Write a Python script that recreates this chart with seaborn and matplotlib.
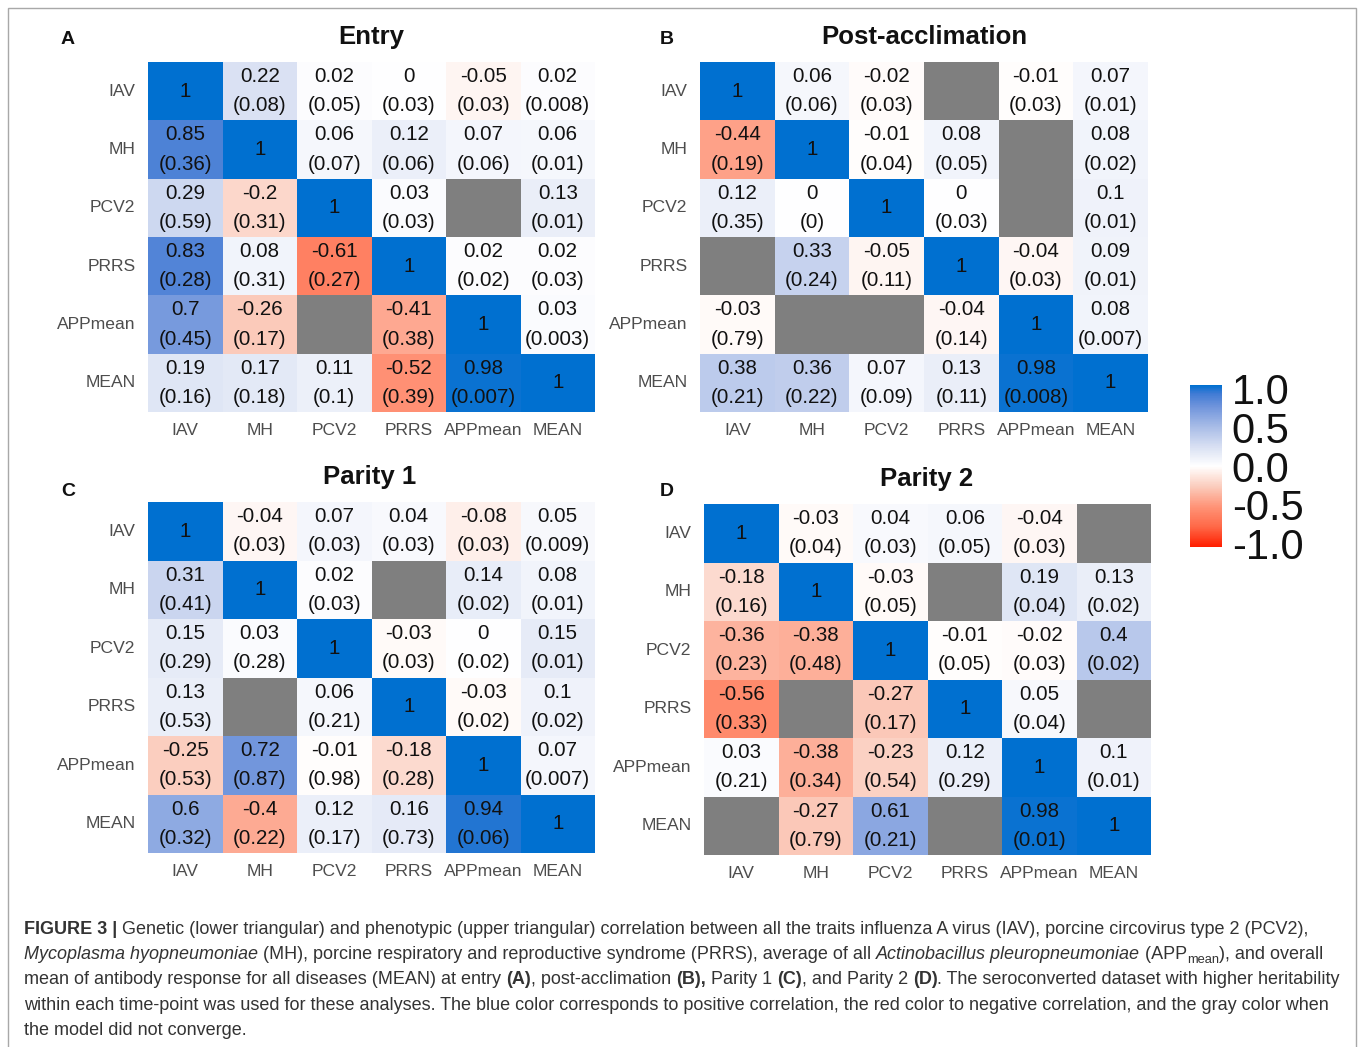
import numpy as np
import pandas as pd
import matplotlib
matplotlib.use("Agg")
import matplotlib.pyplot as plt
import seaborn as sns
from matplotlib.colors import LinearSegmentedColormap
from matplotlib.patches import Rectangle
from matplotlib.cm import ScalarMappable
from matplotlib.colors import Normalize

traits = ["IAV", "MH", "PCV2", "PRRS", "APPmean", "MEAN"]
N = None

# Panel A: Entry (values / standard errors; None = model did not converge)
entry_r = [
    [1, 0.22, 0.02, 0, -0.05, 0.02],
    [0.85, 1, 0.06, 0.12, 0.07, 0.06],
    [0.29, -0.2, 1, 0.03, N, 0.13],
    [0.83, 0.08, -0.61, 1, 0.02, 0.02],
    [0.7, -0.26, N, -0.41, 1, 0.03],
    [0.19, 0.17, 0.11, -0.52, 0.98, 1],
]
entry_se = [
    [N, 0.08, 0.05, 0.03, 0.03, 0.008],
    [0.36, N, 0.07, 0.06, 0.06, 0.01],
    [0.59, 0.31, N, 0.03, N, 0.01],
    [0.28, 0.31, 0.27, N, 0.02, 0.03],
    [0.45, 0.17, N, 0.38, N, 0.003],
    [0.16, 0.18, 0.1, 0.39, 0.007, N],
]

# Panel B: Post-acclimation
post_r = [
    [1, 0.06, -0.02, N, -0.01, 0.07],
    [-0.44, 1, -0.01, 0.08, N, 0.08],
    [0.12, 0, 1, 0, N, 0.1],
    [N, 0.33, -0.05, 1, -0.04, 0.09],
    [-0.03, N, N, -0.04, 1, 0.08],
    [0.38, 0.36, 0.07, 0.13, 0.98, 1],
]
post_se = [
    [N, 0.06, 0.03, N, 0.03, 0.01],
    [0.19, N, 0.04, 0.05, N, 0.02],
    [0.35, 0, N, 0.03, N, 0.01],
    [N, 0.24, 0.11, N, 0.03, 0.01],
    [0.79, N, N, 0.14, N, 0.007],
    [0.21, 0.22, 0.09, 0.11, 0.008, N],
]

# Panel C: Parity 1
p1_r = [
    [1, -0.04, 0.07, 0.04, -0.08, 0.05],
    [0.31, 1, 0.02, N, 0.14, 0.08],
    [0.15, 0.03, 1, -0.03, 0, 0.15],
    [0.13, N, 0.06, 1, -0.03, 0.1],
    [-0.25, 0.72, -0.01, -0.18, 1, 0.07],
    [0.6, -0.4, 0.12, 0.16, 0.94, 1],
]
p1_se = [
    [N, 0.03, 0.03, 0.03, 0.03, 0.009],
    [0.41, N, 0.03, N, 0.02, 0.01],
    [0.29, 0.28, N, 0.03, 0.02, 0.01],
    [0.53, N, 0.21, N, 0.02, 0.02],
    [0.53, 0.87, 0.98, 0.28, N, 0.007],
    [0.32, 0.22, 0.17, 0.73, 0.06, N],
]

# Panel D: Parity 2
p2_r = [
    [1, -0.03, 0.04, 0.06, -0.04, N],
    [-0.18, 1, -0.03, N, 0.19, 0.13],
    [-0.36, -0.38, 1, -0.01, -0.02, 0.4],
    [-0.56, N, -0.27, 1, 0.05, N],
    [0.03, -0.38, -0.23, 0.12, 1, 0.1],
    [N, -0.27, 0.61, N, 0.98, 1],
]
p2_se = [
    [N, 0.04, 0.03, 0.05, 0.03, N],
    [0.16, N, 0.05, N, 0.04, 0.02],
    [0.23, 0.48, N, 0.05, 0.03, 0.02],
    [0.33, N, 0.17, N, 0.04, N],
    [0.21, 0.34, 0.54, 0.29, N, 0.01],
    [N, 0.79, 0.21, N, 0.01, N],
]

titles = ["Entry", "Post-acclimation", "Parity 1", "Parity 2"]
letters = ["A", "B", "C", "D"]
cbar_ticks = [-1.0, -0.5, 0.0, 0.5, 1.0]
cbar_labels = ["-1.0", "-0.5", "0.0", "0.5", "1.0"]

# ---------------------------------------------------------------
W, H = 1358, 1047
sns.set_theme(style="white")
plt.rcParams["font.family"] = ["Liberation Sans", "DejaVu Sans"]

stops = [
    (-1.0, (255, 30, 0)), (-0.75, (255, 105, 72)), (-0.5, (255, 148, 120)),
    (-0.25, (251, 205, 190)), (0.0, (255, 255, 255)), (0.25, (214, 222, 242)),
    (0.5, (165, 186, 230)), (0.75, (108, 146, 219)), (0.9, (62, 122, 212)),
    (1.0, (0, 112, 208)),
]
cmap = LinearSegmentedColormap.from_list(
    "rwb", [((v + 1) / 2, tuple(c / 255 for c in col)) for v, col in stops])


def fmt(v):
    return f"{v:g}"


def fx(px):
    return px / W


def fy(py):
    return 1 - py / H


fig = plt.figure(figsize=(W / 100, H / 100), dpi=100)

# outer frame
fig.add_artist(Rectangle((fx(8), -0.1), fx(1348), fy(8) + 0.1, transform=fig.transFigure,
                         fill=False, edgecolor="#a8a8a8", lw=1.0))

panels = [
    (entry_r, entry_se, (148, 62, 595, 412), (371, 37), (68, 39)),
    (post_r, post_se, (700, 62, 1148, 412), (924, 37), (667, 39)),
    (p1_r, p1_se, (148, 502, 595, 853), (370, 477), (68, 492)),
    (p2_r, p2_se, (704, 504, 1151, 855), (927, 479), (667, 492)),
]

for (r, se, box, tpos, lpos), title, letter in zip(panels, titles, letters):
    x0, y0, x1, y1 = box
    ax = fig.add_axes([fx(x0), fy(y1), fx(x1 - x0), (y1 - y0) / H])
    vals = np.array([[np.nan if v is None else v for v in row] for row in r], dtype=float)
    df = pd.DataFrame(vals, index=traits, columns=traits)
    annot = np.empty(vals.shape, dtype=object)
    for i in range(6):
        for j in range(6):
            if r[i][j] is None:
                annot[i, j] = ""
            elif i == j:
                annot[i, j] = fmt(r[i][j])
            else:
                annot[i, j] = f"{fmt(r[i][j])}\n({fmt(se[i][j])})"
    sns.heatmap(df, mask=np.isnan(vals), cmap=cmap, vmin=-1, vmax=1, annot=annot, fmt="",
                cbar=False, ax=ax, linewidths=0,
                annot_kws=dict(fontsize=14.8, color="#111111", linespacing=1.68))
    ax.set_facecolor("#7f7f7f")
    ax.tick_params(axis="both", length=0, labelsize=12.6, labelcolor="#4d4d4d")
    ax.tick_params(axis="y", pad=9)
    ax.tick_params(axis="x", pad=8)
    ax.set_xticklabels(traits, rotation=0)
    ax.set_yticklabels(traits, rotation=0)
    ax.set_xlabel("")
    ax.set_ylabel("")
    for s in ax.spines.values():
        s.set_visible(False)
    fig.text(fx(tpos[0]), fy(tpos[1]), title, ha="center", va="center",
             fontsize=18.5, fontweight="bold", color="#111111")
    fig.text(fx(lpos[0]), fy(lpos[1]), letter, ha="center", va="center",
             fontsize=14, fontweight="bold", color="#111111")

# colorbar
cax = fig.add_axes([fx(1190), fy(547), fx(32), 162 / H])
sm = ScalarMappable(norm=Normalize(-1.05, 1.05), cmap=cmap)
cb = fig.colorbar(sm, cax=cax, ticks=cbar_ticks)
cb.outline.set_visible(False)
cb.ax.set_yticklabels(cbar_labels)
cb.ax.yaxis.set_ticks_position("both")
cb.ax.tick_params(axis="y", direction="in", color="white", length=5, width=0.8,
                  labelsize=30, labelcolor="#111111", pad=7, labelleft=False, labelright=True)

# caption with mixed styles
renderer = fig.canvas.get_renderer()
cap_fs = 12.95
cap_col = "#333333"


def draw_runs(x_px, y_px, runs):
    x = fx(x_px)
    for text, style in runs:
        kw = dict(fontsize=cap_fs, color=cap_col, va="baseline", ha="left")
        yy = fy(y_px)
        if style == "b":
            kw["fontweight"] = "bold"
        elif style == "i":
            kw["fontstyle"] = "italic"
        elif style == "sub":
            kw["fontsize"] = cap_fs * 0.72
            yy = fy(y_px + 4)
        t = fig.text(x, yy, text, **kw)
        bb = t.get_window_extent(renderer=renderer)
        x += bb.width / W


lines = [
    [("FIGURE 3 |", "b"),
     (" Genetic (lower triangular) and phenotypic (upper triangular) correlation between all the traits influenza A virus (IAV), porcine circovirus type 2 (PCV2),", "n")],
    [("Mycoplasma hyopneumoniae", "i"),
     (" (MH), porcine respiratory and reproductive syndrome (PRRS), average of all ", "n"),
     ("Actinobacillus pleuropneumoniae", "i"), (" (APP", "n"), ("mean", "sub"),
     ("), and overall", "n")],
    [("mean of antibody response for all diseases (MEAN) at entry ", "n"), ("(A)", "b"),
     (", post-acclimation ", "n"), ("(B),", "b"), (" Parity 1 ", "n"), ("(C)", "b"),
     (", and Parity 2 ", "n"), ("(D)", "b"),
     (". The seroconverted dataset with higher heritability", "n")],
    [("within each time-point was used for these analyses. The blue color corresponds to positive correlation, the red color to negative correlation, and the gray color when", "n")],
    [("the model did not converge.", "n")],
]
base_y = [934, 959, 984, 1010, 1035]
for runs, by in zip(lines, base_y):
    draw_runs(24, by, runs)

fig.savefig("out.png", dpi=100)
